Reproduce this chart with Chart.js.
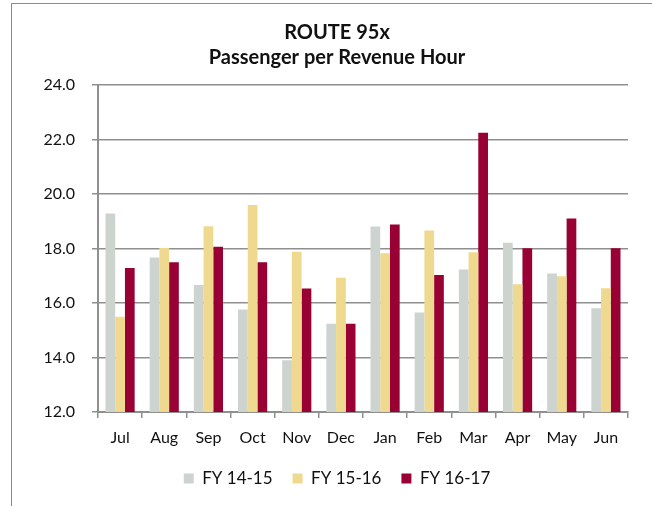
<!DOCTYPE html>
<html>
<head>
<meta charset="utf-8">
<script src="https://cdn.jsdelivr.net/npm/chart.js@4"></script>
<style>
  html, body { margin: 0; padding: 0; background: #fff; overflow: hidden; }
  #frame {
    position: absolute; left: 11px; top: 3px;
    width: 652px; height: 520px;
    border: 1px solid #8c8c8c; box-sizing: border-box;
  }
  #wrap { position: absolute; left: 0; top: 0; width: 650px; height: 503px; }
</style>
</head>
<body>
<div id="frame">
  <div id="wrap"><canvas id="route-chart"></canvas></div>
</div>
<script>
// chart values
const months = ['Jul', 'Aug', 'Sep', 'Oct', 'Nov', 'Dec', 'Jan', 'Feb', 'Mar', 'Apr', 'May', 'Jun'];
const fy1415 = [19.28, 17.67, 16.66, 15.76, 13.90, 15.24, 18.81, 15.65, 17.23, 18.21, 17.08, 15.81];
const fy1516 = [15.50, 18.02, 18.82, 19.60, 17.88, 16.93, 17.83, 18.66, 17.86, 16.69, 16.98, 16.54];
const fy1617 = [17.28, 17.50, 18.06, 17.50, 16.53, 15.24, 18.88, 17.03, 22.25, 18.01, 19.10, 18.01];
const yTicks = [12, 14, 16, 18, 20, 22, 24];

const fontFamily = 'Lato, "Open Sans", sans-serif';
const gridGray = '#8f8f8f';

const ctx = document.getElementById('route-chart').getContext('2d');
new Chart(ctx, {
  type: 'bar',
  data: {
    labels: months,
    datasets: [
      { label: 'FY 14-15', data: fy1415, backgroundColor: '#CDD3CF' },
      { label: 'FY 15-16', data: fy1516, backgroundColor: '#EFD98E' },
      { label: 'FY 16-17', data: fy1617, backgroundColor: '#990033' },
    ],
  },
  options: {
    responsive: true,
    maintainAspectRatio: false,
    animation: false,
    layout: { padding: { top: 16, left: 0, right: 0, bottom: 10 } },
    datasets: { bar: { categoryPercentage: 0.66, barPercentage: 1.0, borderWidth: 0 } },
    plugins: {
      title: {
        display: true,
        text: ['ROUTE 95x', 'Passenger per Revenue Hour'],
        color: '#111',
        font: { family: fontFamily, size: 20, weight: 'bold', lineHeight: 1.25 },
        padding: { top: 0, bottom: 15 },
      },
      legend: {
        position: 'bottom',
        labels: {
          color: '#111',
          font: { family: fontFamily, size: 17 },
          boxWidth: 10,
          boxHeight: 10,
          padding: 20,
        },
      },
      tooltip: { enabled: false },
    },
    scales: {
      x: {
        offset: true,
        grid: {
          offset: true,
          drawOnChartArea: false,
          drawTicks: true,
          tickLength: 6,
          color: gridGray,
          lineWidth: 1.5,
        },
        border: { color: gridGray, width: 2 },
        ticks: { color: '#111', font: { family: fontFamily, size: 16 }, padding: 10 },
        afterFit: (scale) => { scale.height = 38; },
      },
      y: {
        min: 12,
        max: 24,
        afterBuildTicks: (scale) => { scale.ticks = yTicks.map((v) => ({ value: v })); },
        grid: { color: gridGray, lineWidth: 1.5, tickLength: 6 },
        border: { color: gridGray, width: 2 },
        ticks: {
          color: '#111',
          font: { family: fontFamily, size: 16 },
          padding: 17,
          callback: (v) => Number(v).toFixed(1),
        },
        afterFit: (scale) => { scale.width = 86; },
      },
      // empty right-hand axis, only keeps the blank margin right of the plot
      yRight: {
        position: 'right',
        min: 12,
        max: 24,
        grid: { display: false },
        border: { display: false },
        ticks: { display: false },
        afterFit: (scale) => { scale.width = 34; },
      },
    },
  },
});
</script>
</body>
</html>
